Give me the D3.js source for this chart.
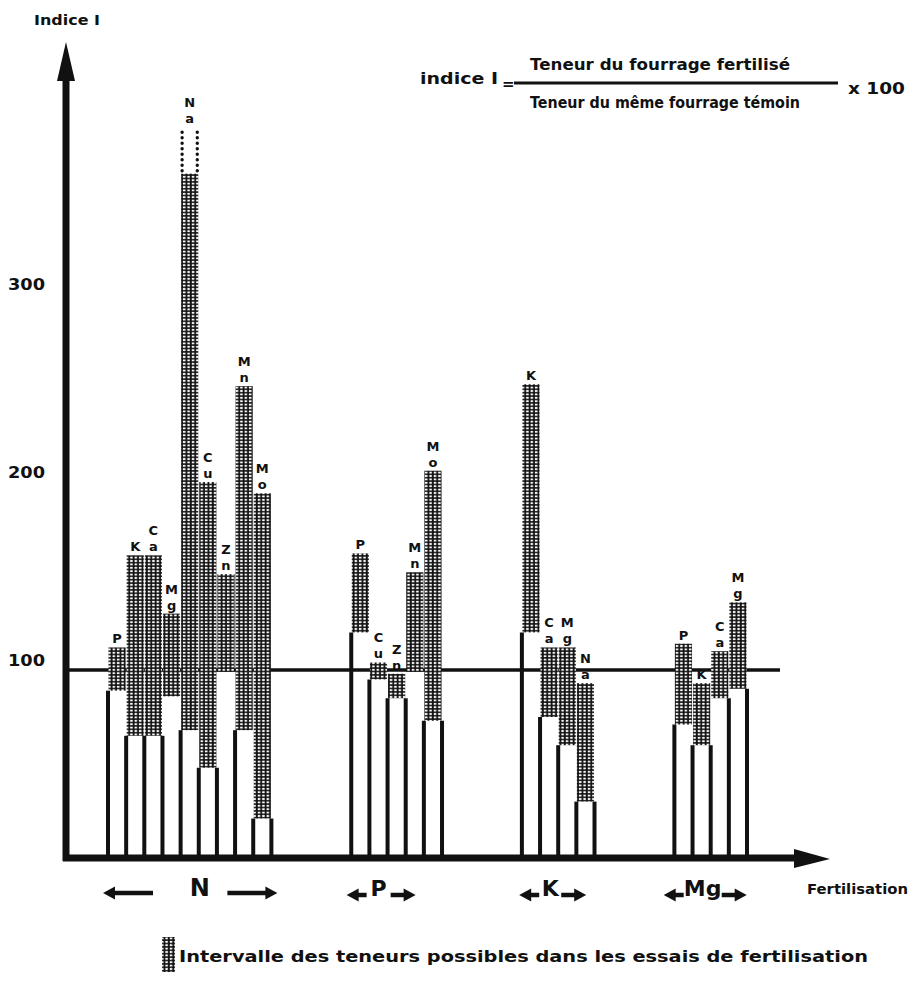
<!DOCTYPE html>
<html>
<head>
<meta charset="utf-8">
<script src="https://d3js.org/d3.v7.min.js"></script>
<style>
  body { margin: 0; background: #fff; }
  text { font-family: "DejaVu Sans", "Liberation Sans", Arial, sans-serif; font-weight: bold; fill: #111; }
</style>
</head>
<body>
<div id="chart"></div>
<script>
// Indice I des teneurs du fourrage selon la fertilisation

// fertilisation groups and the elements measured in each
const groups = ["N", "P", "K", "Mg"];
const elementsN = ["P", "K", "Ca", "Mg", "Na", "Cu", "Zn", "Mn", "Mo"];
const elementsP = ["P", "Cu", "Zn", "Mn", "Mo"];
const elementsK = ["K", "Ca", "Mg", "Na"];
const elementsMg = ["P", "K", "Ca", "Mg"];

// lower and upper bound of the possible index (interval)
const lowN = [89, 65, 65, 86, 68, 48, 99, 68, 21];
const highN = [112, 161, 161, 130, 364, 200, 151, 251, 194];
const lowP = [120, 95, 85, 99, 73];
const highP = [162, 104, 98, 152, 206];
const lowK = [120, 75, 60, 30];
const highK = [252, 112, 112, 93];
const lowMg = [71, 60, 85, 90];
const highMg = [114, 93, 110, 136];

// Na under N fertilisation: dotted extension of the interval
const naDottedTop = 389;

const yTicks = [100, 200, 300];
const referenceValue = 100;

const width = 914, height = 983;
const svg = d3.select("#chart").append("svg")
  .attr("width", width)
  .attr("height", height);

// hatch pattern
const defs = svg.append("defs");
const pat = defs.append("pattern")
  .attr("id", "hatch")
  .attr("patternUnits", "userSpaceOnUse")
  .attr("width", 4.4)
  .attr("height", 3.4);
pat.append("rect").attr("width", 4.4).attr("height", 3.4).attr("fill", "#fff");
pat.append("line").attr("x1", 1.6).attr("x2", 1.6).attr("y1", 0).attr("y2", 3.4)
  .attr("stroke", "#111").attr("stroke-width", 1.9);
pat.append("line").attr("x1", 0).attr("x2", 4.4).attr("y1", 1.7).attr("y2", 1.7)
  .attr("stroke", "#111").attr("stroke-width", 1.5);

// build bars, one slot per element, gap between groups
const groupData = [
  { name: groups[0], el: elementsN, low: lowN, high: highN },
  { name: groups[1], el: elementsP, low: lowP, high: highP },
  { name: groups[2], el: elementsK, low: lowK, high: highK },
  { name: groups[3], el: elementsMg, low: lowMg, high: highMg }
];
const gapSlots = 4.4;
let slot = 0;
const bars = [];
const edges = [];
groupData.forEach(g => {
  g.start = slot;
  g.el.forEach((e, i) => {
    bars.push({ group: g.name, name: e, slot: slot + i, low: g.low[i], high: g.high[i] });
  });
  for (let k = 0; k <= g.el.length; k++) {
    let h;
    if (k === 0) h = g.low[0];
    else if (k === g.el.length) h = g.low[k - 1];
    else h = Math.min(g.low[k - 1], g.low[k]);
    edges.push({ slot: slot + k, value: h });
  }
  slot += g.el.length;
  g.end = slot;
  slot += gapSlots;
});
const totalSlots = slot - gapSlots;

const x = d3.scaleLinear().domain([0, totalSlots]).range([108, 747]);
const y = d3.scaleLinear().domain([0, 400]).range([858, 106]);

// reference line at 100
svg.append("line")
  .attr("x1", 66).attr("x2", 780)
  .attr("y1", y(referenceValue)).attr("y2", y(referenceValue))
  .attr("stroke", "#111").attr("stroke-width", 3.5);

// hatched intervals
svg.append("g").selectAll("rect")
  .data(bars)
  .enter().append("rect")
  .attr("x", d => x(d.slot) + 0.5)
  .attr("width", d => x(d.slot + 1) - x(d.slot) - 1)
  .attr("y", d => y(d.high))
  .attr("height", d => y(d.low) - y(d.high))
  .attr("fill", "url(#hatch)");

// dotted extension for Na (N)
const naBar = bars.find(b => b.group === "N" && b.name === "Na");
naBar.top = naDottedTop;
[x(naBar.slot) + 1.5, x(naBar.slot + 1) - 1.5].forEach(xx => {
  svg.append("line")
    .attr("x1", xx).attr("x2", xx)
    .attr("y1", y(naBar.high) - 3).attr("y2", y(naDottedTop))
    .attr("stroke", "#111").attr("stroke-width", 3.4)
    .attr("stroke-linecap", "round")
    .attr("stroke-dasharray", "0 5.5");
});

// vertical bar edges from 0 up to the lower bound
svg.append("g").selectAll("line")
  .data(edges)
  .enter().append("line")
  .attr("x1", d => x(d.slot)).attr("x2", d => x(d.slot))
  .attr("y1", y(0)).attr("y2", d => y(d.value))
  .attr("stroke", "#111").attr("stroke-width", 4);

// element labels (letters stacked one above the other)
const labels = [];
bars.forEach(b => {
  const cx = (x(b.slot) + x(b.slot + 1)) / 2;
  const top = y(b.top || b.high);
  const chars = b.name.split("");
  chars.forEach((c, i) => {
    labels.push({ c, x: cx, y: top - 4 - (chars.length - 1 - i) * 16 });
  });
});
svg.append("g").selectAll("text")
  .data(labels)
  .enter().append("text")
  .attr("x", d => d.x).attr("y", d => d.y)
  .attr("text-anchor", "middle")
  .attr("font-size", 13)
  .text(d => d.c);

// axes
svg.append("line")
  .attr("x1", 66).attr("x2", 66).attr("y1", y(0) + 3).attr("y2", 78)
  .attr("stroke", "#111").attr("stroke-width", 7);
svg.append("path")
  .attr("d", "M57,81 L66,42 L75,81 Z").attr("fill", "#111");
svg.append("line")
  .attr("x1", 63).attr("x2", 796).attr("y1", y(0)).attr("y2", y(0))
  .attr("stroke", "#111").attr("stroke-width", 7);
svg.append("path")
  .attr("d", `M794,${y(0) - 9} L830,${y(0) + 1} L794,${y(0) + 10} Z`).attr("fill", "#111");

// y tick labels
svg.append("g").selectAll("text")
  .data(yTicks)
  .enter().append("text")
  .attr("x", 8).attr("y", d => y(d) - 4)
  .attr("font-size", 15)
  .attr("textLength", 37).attr("lengthAdjust", "spacingAndGlyphs")
  .text(d => d);

svg.append("text").attr("x", 34).attr("y", 25).attr("font-size", 14)
  .attr("textLength", 66).attr("lengthAdjust", "spacingAndGlyphs").text("Indice I");

// formula
svg.append("text").attr("x", 420).attr("y", 84).attr("font-size", 15)
  .attr("textLength", 78).attr("lengthAdjust", "spacingAndGlyphs").text("indice I");
svg.append("text").attr("x", 502).attr("y", 89).attr("font-size", 15).text("=");
svg.append("line").attr("x1", 514).attr("x2", 838).attr("y1", 83).attr("y2", 83)
  .attr("stroke", "#111").attr("stroke-width", 3);
svg.append("text").attr("x", 530).attr("y", 70).attr("font-size", 15)
  .attr("textLength", 260).attr("lengthAdjust", "spacingAndGlyphs").text("Teneur du fourrage fertilisé");
svg.append("text").attr("x", 530).attr("y", 108).attr("font-size", 15)
  .attr("textLength", 270).attr("lengthAdjust", "spacingAndGlyphs").text("Teneur du même fourrage témoin");
svg.append("text").attr("x", 848).attr("y", 94).attr("font-size", 16)
  .attr("textLength", 57).attr("lengthAdjust", "spacingAndGlyphs").text("x 100");

// group labels with arrows below the axis
const arrow = (x1, x2, yy) => {
  const dir = x2 > x1 ? 1 : -1;
  svg.append("line").attr("x1", x1).attr("x2", x2 - dir * 8).attr("y1", yy).attr("y2", yy)
    .attr("stroke", "#111").attr("stroke-width", 4.5);
  svg.append("path")
    .attr("d", `M${x2 - dir * 12},${yy - 6.5} L${x2},${yy} L${x2 - dir * 12},${yy + 6.5} Z`)
    .attr("fill", "#111");
};
const labelGap = { N: 40, P: 12, K: 11, Mg: 19 };
groupData.forEach(g => {
  const x0 = x(g.start), x1 = x(g.end);
  const cx = (x0 + x1) / 2 - (g.name === "P" ? 18 : g.name === "N" ? -10 : 8);
  svg.append("text").attr("x", cx).attr("y", 896).attr("text-anchor", "middle")
    .attr("font-size", g.name === "N" ? 24 : 22)
    .attr("font-family", "Liberation Sans, Arial, sans-serif")
    .text(g.name);
  const gp = labelGap[g.name];
  if (g.name === "N") {
    arrow(x0 + 45, x0 - 5, 893);
    arrow(x1 - 44, x1 + 6, 893);
  } else {
    arrow(cx - gp, cx - gp - 20, 895);
    arrow(cx + gp, cx + gp + 25, 895);
  }
});

svg.append("text").attr("x", 807).attr("y", 894).attr("font-size", 14)
  .attr("textLength", 101).attr("lengthAdjust", "spacingAndGlyphs").text("Fertilisation");

// legend
svg.append("rect").attr("x", 162).attr("y", 937).attr("width", 13).attr("height", 35)
  .attr("fill", "url(#hatch)");
svg.append("text").attr("x", 179).attr("y", 962).attr("font-size", 15)
  .attr("textLength", 689).attr("lengthAdjust", "spacingAndGlyphs")
  .text("Intervalle des teneurs possibles dans les essais de fertilisation");
</script>
</body>
</html>
